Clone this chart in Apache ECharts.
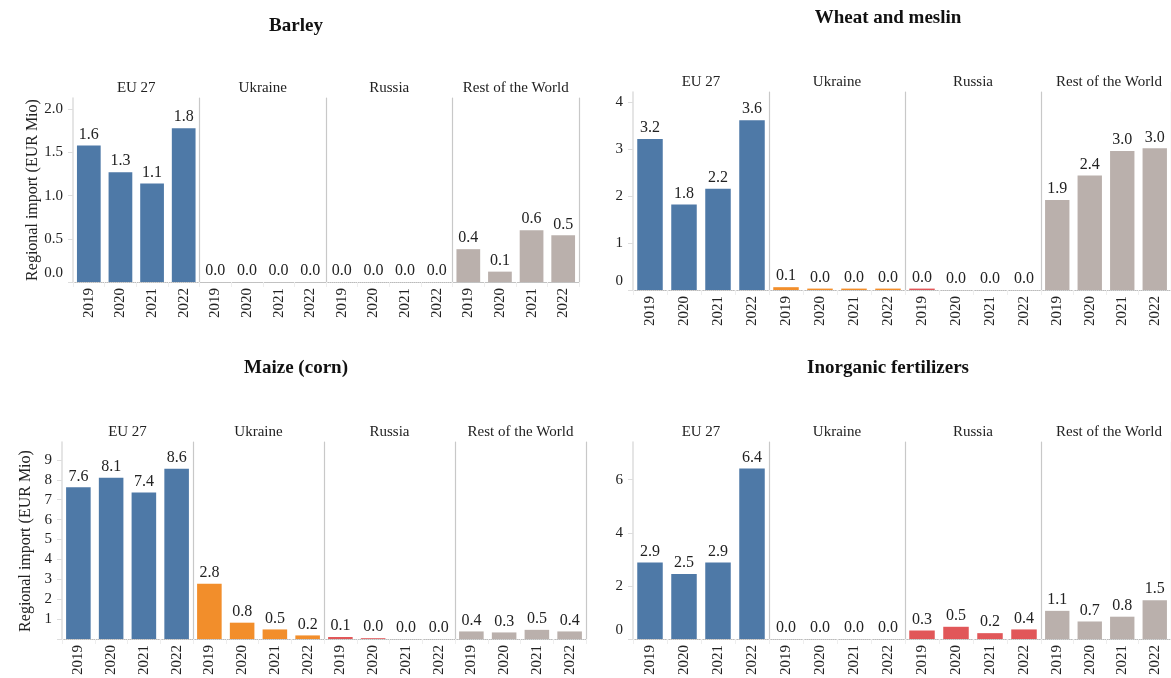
<!DOCTYPE html>
<html><head><meta charset="utf-8">
<script src="https://cdn.jsdelivr.net/npm/echarts@6/dist/echarts.min.js"></script>
<style>html,body{margin:0;padding:0;background:#fff}#c{width:1171px;height:678px}</style>
</head><body><div id="c"></div>
<script>
const years = ['2019', '2020', '2021', '2022'];
const regions = ['EU 27', 'Ukraine', 'Russia', 'Rest of the World'];
const panelTitles = ['Barley', 'Wheat and meslin', 'Maize (corn)', 'Inorganic fertilizers'];
const yTitle = 'Regional import (EUR Mio)';

const barleyEU = [1.58, 1.27, 1.14, 1.78];
const barleyUkraine = [0, 0, 0, 0];
const barleyRussia = [0, 0, 0, 0];
const barleyRoW = [0.38, 0.12, 0.60, 0.54];

const wheatEU = [3.22, 1.82, 2.16, 3.62];
const wheatUkraine = [0.06, 0.03, 0.03, 0.03];
const wheatRussia = [0.03, 0, 0, 0];
const wheatRoW = [1.92, 2.44, 2.96, 3.02];

const maizeEU = [7.62, 8.10, 7.36, 8.56];
const maizeUkraine = [2.78, 0.82, 0.48, 0.18];
const maizeRussia = [0.10, 0.04, 0, 0];
const maizeRoW = [0.38, 0.33, 0.46, 0.38];

const fertEU = [2.88, 2.45, 2.88, 6.42];
const fertUkraine = [0, 0, 0, 0];
const fertRussia = [0.32, 0.46, 0.22, 0.36];
const fertRoW = [1.06, 0.66, 0.84, 1.46];

const colors = ['#4e79a7', '#f28e2b', '#e15759', '#bab0ac'];
const FONT = '"Liberation Serif", "Times New Roman", serif';

const panels = [
  { data: [barleyEU, barleyUkraine, barleyRussia, barleyRoW], left: 73, fw: 126.5, top: 98, h: 184, max: 2.13, interval: 0.5, dec: 1, showZero: true, titleX: 296, titleY: 26, headY: 88, yTitleX: 33 },
  { data: [wheatEU, wheatUkraine, wheatRussia, wheatRoW], left: 633, fw: 136, top: 92, h: 198, max: 4.22, interval: 1, dec: 0, showZero: true, titleX: 888, titleY: 18, headY: 82, yTitleX: null },
  { data: [maizeEU, maizeUkraine, maizeRussia, maizeRoW], left: 62, fw: 131, top: 442, h: 198, max: 9.9, interval: 1, dec: 0, showZero: false, titleX: 296, titleY: 368, headY: 432, yTitleX: 26 },
  { data: [fertEU, fertUkraine, fertRussia, fertRoW], left: 633, fw: 136, top: 442, h: 198, max: 7.42, interval: 2, dec: 0, showZero: true, titleX: 888, titleY: 368, headY: 432, yTitleX: null }
];

const grid = [], xAxis = [], yAxis = [], series = [], graphic = [];
let gi = 0;
panels.forEach((p, pi) => {
  graphic.push({ type: 'text', x: p.titleX, y: p.titleY, style: { text: panelTitles[pi], font: 'bold 19px ' + FONT, fill: '#111', textAlign: 'center', textVerticalAlign: 'middle' } });
  if (p.yTitleX !== null) {
    graphic.push({ type: 'text', x: p.yTitleX, y: p.top + p.h / 2, rotation: Math.PI / 2, style: { text: yTitle, font: '16px ' + FONT, fill: '#222', textAlign: 'center', textVerticalAlign: 'middle' } });
  }
  p.data.forEach((vals, ri) => {
    const left = p.left + ri * p.fw;
    graphic.push({ type: 'text', x: left + p.fw / 2, y: p.headY, style: { text: regions[ri], font: '15px ' + FONT, fill: '#222', textAlign: 'center', textVerticalAlign: 'middle' } });
    grid.push({ left: left, top: p.top, width: p.fw, height: p.h, containLabel: false });
    xAxis.push({
      type: 'category', gridIndex: gi, data: years,
      axisLine: { show: true, lineStyle: { color: '#bbb', type: 'dotted', width: 1 } },
      axisTick: { show: true, alignWithLabel: false, length: 5, lineStyle: { color: '#eee' } },
      axisLabel: { rotate: 90, margin: 6, fontFamily: FONT, fontSize: 15, color: '#222' }
    });
    const first = ri === 0;
    yAxis.push({
      type: 'value', gridIndex: gi, min: 0, max: p.max, interval: p.interval,
      splitLine: { show: false },
      axisLine: { show: true, lineStyle: { color: first ? '#ddd' : '#c8c8c8', width: first ? 1.5 : 1.2 } },
      axisTick: { show: first, length: 5, lineStyle: { color: '#ddd' } },
      axisLabel: {
        show: first, margin: 10, fontFamily: FONT, fontSize: 15, color: '#222', showMaxLabel: false,
        formatter: function (v) {
          const r = v / p.interval;
          if (Math.abs(r - Math.round(r)) > 1e-6) return '';
          if (v === 0) return p.showZero ? '{z|' + v.toFixed(p.dec) + '}' : '';
          return v.toFixed(p.dec);
        },
        rich: { z: { fontFamily: FONT, fontSize: 15, color: '#222', padding: [0, 0, 18, 0] } }
      }
    });
    if (ri === 3) {
      yAxis.push({
        type: 'value', gridIndex: gi, position: 'right', min: 0, max: p.max,
        splitLine: { show: false }, axisTick: { show: false }, axisLabel: { show: false },
        axisLine: { show: true, lineStyle: { color: '#c8c8c8', width: 1.2 } }
      });
    }
    series.push({
      type: 'bar', xAxisIndex: gi, yAxisIndex: yAxis.length - (ri === 3 ? 2 : 1),
      data: vals, barCategoryGap: '25%',
      itemStyle: { color: colors[ri] },
      label: { show: true, position: 'top', distance: 3, fontFamily: FONT, fontSize: 16, color: '#222', formatter: function (d) { return d.value.toFixed(1); } }
    });
    gi++;
  });
});

const chart = echarts.init(document.getElementById('c'), null, { renderer: 'canvas' });
chart.setOption({ animation: false, backgroundColor: '#fff', grid, xAxis, yAxis, series, graphic });
</script></body></html>
